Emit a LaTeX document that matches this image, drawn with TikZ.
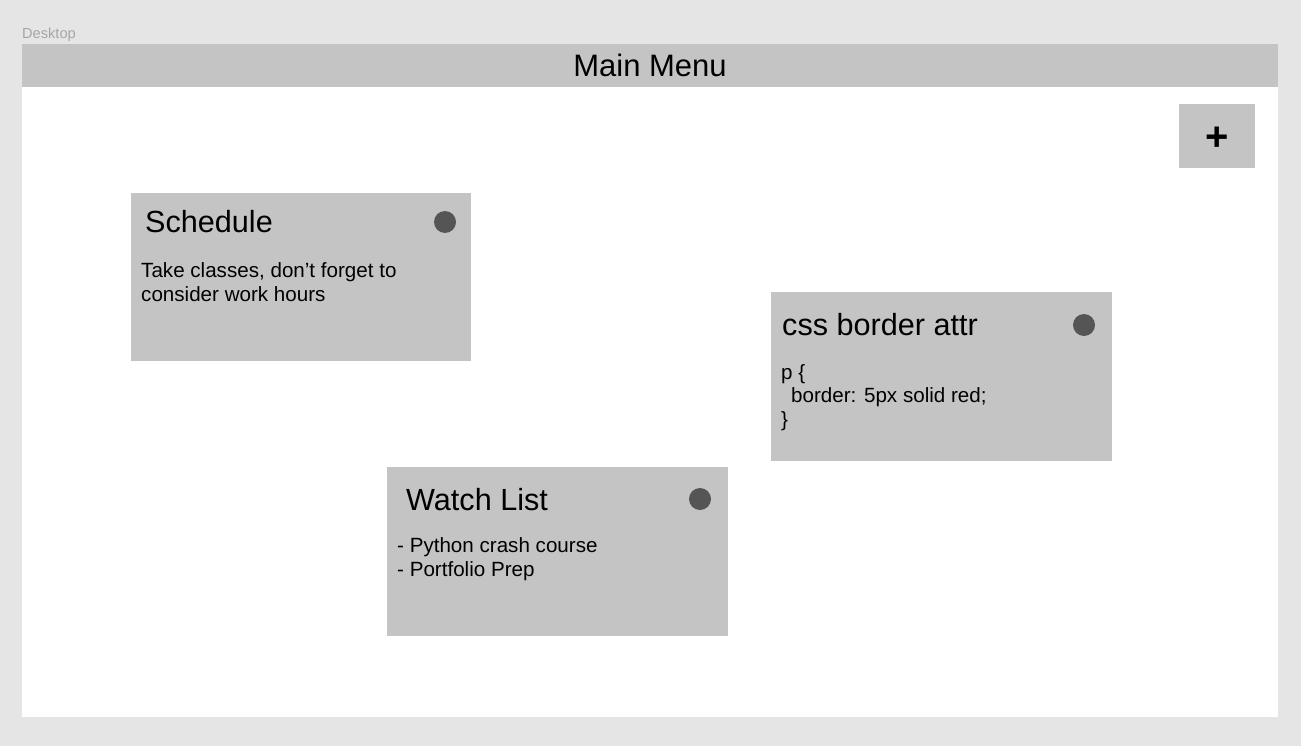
\documentclass[tikz,border=0pt]{standalone}
\usepackage{fontspec}
\setmainfont{Liberation Sans}
\definecolor{bgc}{HTML}{E5E5E5}
\definecolor{cardc}{HTML}{C4C4C4}
\definecolor{dotc}{HTML}{555555}
\definecolor{lblc}{HTML}{A6A6A6}
\tikzset{
  card/.style={fill=cardc, draw=none},
  dotmark/.style={circle, fill=dotc, draw=none, minimum size=22pt, inner sep=0pt},
  titletxt/.style={anchor=base west, inner sep=0pt, font=\fontsize{30.6}{36}\selectfont},
  bodytxt/.style={anchor=base west, inner sep=0pt, align=left, font=\fontsize{20.6}{24}\selectfont},
}
\begin{document}
\begin{tikzpicture}[x=1pt,y=-1pt]
\useasboundingbox (0,0) rectangle (1301,746);
\fill[bgc] (0,0) rectangle (1301,746);
% Desktop frame
\node[anchor=base west, inner sep=0pt, text=lblc, font=\fontsize{14.6}{16}\selectfont] (desklbl) at (22,39) {Desktop};
\fill[white] (22,44) rectangle (1278,717);
\fill[cardc] (22,44) rectangle (1278,87);
\node[anchor=base, inner sep=0pt, font=\fontsize{31}{36}\selectfont] (mainmenu) at (650,77) {Main Menu};
% plus button
\fill[cardc] (1179,104) rectangle (1255,168);
\node[inner sep=0pt, font=\fontsize{40}{44}\selectfont\bfseries] (plus) at (1217,139) {+};
% Schedule card
\fill[card] (131,193) rectangle (471,361);
\node[titletxt] (schedtitle) at (145,233) {Schedule};
\node[dotmark] (scheddot) at (445,222) {};
\node[bodytxt] (sched1) at (141,277) {Take classes, don’t forget to};
\node[bodytxt] (sched2) at (141,301) {consider work hours};
% css card
\fill[card] (771,292) rectangle (1112,461);
\node[titletxt] (csstitle) at (782,335) {css border attr};
\node[dotmark] (cssdot) at (1084,325) {};
\node[bodytxt] (css1) at (781,379) {p \{};
\node[bodytxt] (css2) at (791,402) {border: 5px solid red;};
\node[bodytxt] (css3) at (781,426) {\}};
% Watch List card
\fill[card] (387,467) rectangle (728,636);
\node[titletxt] (watchtitle) at (406,510) {Watch List};
\node[dotmark] (watchdot) at (700,499) {};
\node[bodytxt] (watch1) at (397,552) {- Python crash course};
\node[bodytxt] (watch2) at (397,576) {- Portfolio Prep};
\end{tikzpicture}
\end{document}
